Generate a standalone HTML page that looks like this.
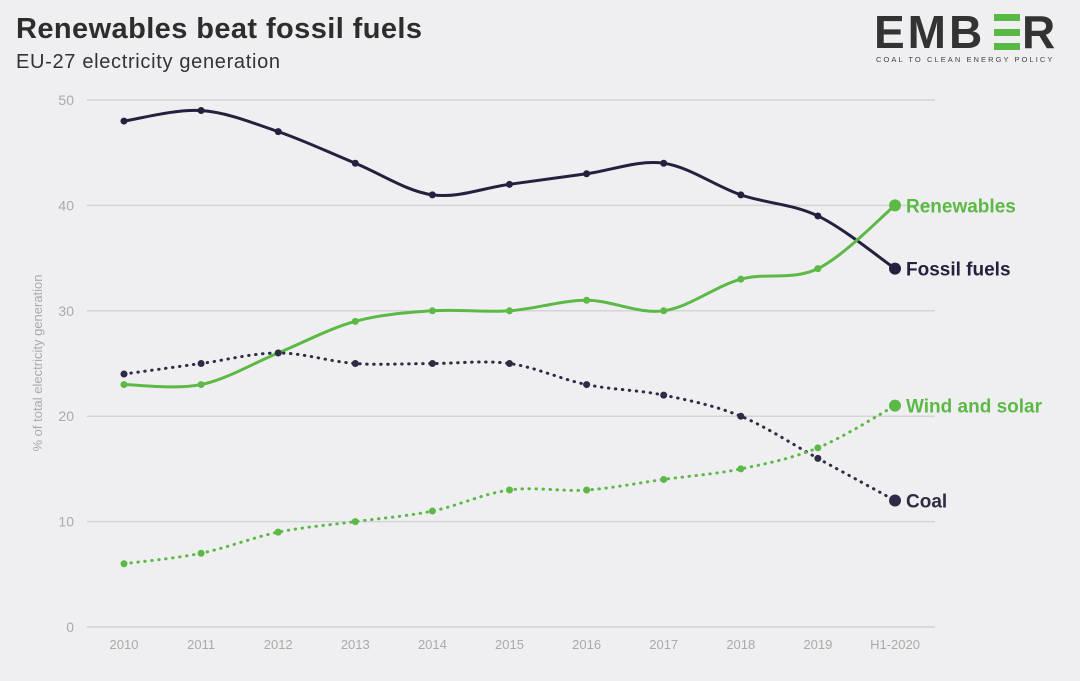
<!DOCTYPE html>
<html><head><meta charset="utf-8"><style>
body{margin:0;width:1080px;height:676px;background:#efeff1;font-family:"Liberation Sans",sans-serif;overflow:hidden}
</style></head><body>
<svg id="s" width="1080" height="676" xmlns="http://www.w3.org/2000/svg">
<text x="16" y="38" font-size="29" font-weight="bold" fill="#2d2d2d" textLength="406">Renewables beat fossil fuels</text>
<text x="16" y="68" font-size="20" fill="#333" textLength="264">EU-27 electricity generation</text>
<text x="874" y="48" font-size="46" font-weight="bold" fill="#333" letter-spacing="3">EMB</text>
<rect x="994" y="14" width="26" height="7" fill="#58b947"/>
<rect x="994" y="29" width="26" height="7" fill="#58b947"/>
<rect x="994" y="43" width="26" height="7" fill="#58b947"/>
<text x="1022" y="48" font-size="46" font-weight="bold" fill="#333">R</text>
<text x="876" y="62" font-size="7.5" fill="#444" letter-spacing="1.6" textLength="178">COAL TO CLEAN ENERGY POLICY</text>
<text transform="translate(42,363) rotate(-90)" text-anchor="middle" font-size="13" fill="#aaa">% of total electricity generation</text>
<g id="g"></g>
</svg>
<script>
var g=document.getElementById('g'),h='';
function X(i){return 124+i*77.1}function Y(v){return 627-v*10.54}
for(var v=0;v<=50;v+=10){h+='<line x1="87" x2="935" y1="'+Y(v)+'" y2="'+Y(v)+'" stroke="#d4d4d6" stroke-width="1.5"/>';
h+='<text x="74" y="'+(Y(v)+5)+'" text-anchor="end" font-size="14" fill="#aaa">'+v+'</text>';}
var L=['2010','2011','2012','2013','2014','2015','2016','2017','2018','2019','H1-2020'];
L.forEach(function(l,i){h+='<text x="'+X(i)+'" y="649" text-anchor="middle" font-size="13" fill="#aaa">'+l+'</text>'});
function path(d){var p=d.map(function(v,i){return[X(i),Y(v)]});var s='M'+p[0];
for(var i=0;i<p.length-1;i++){var a=p[i-1]||p[i],b=p[i],c=p[i+1],e=p[i+2]||c;
s+=' C'+(b[0]+(c[0]-a[0])/6)+','+(b[1]+(c[1]-a[1])/6)+' '+(c[0]-(e[0]-b[0])/6)+','+(c[1]-(e[1]-b[1])/6)+' '+c[0]+','+c[1];}return s}
function ser(d,col,dash,lab){h+='<path d="'+path(d)+'" fill="none" stroke="'+col+'" stroke-width="3"'+(dash?' stroke-dasharray="0.5,6.5" stroke-linecap="round"':'')+'/>';
d.forEach(function(v,i){h+='<circle cx="'+X(i)+'" cy="'+Y(v)+'" r="'+(i==10?6:3.5)+'" fill="'+col+'"/>'});
h+='<text x="906" y="'+(Y(d[10])+7)+'" font-size="19" font-weight="bold" fill="'+col+'">'+lab+'</text>';}
ser([48,49,47,44,41,42,43,44,41,39,34],'#23213d',0,'Fossil fuels');
ser([23,23,26,29,30,30,31,30,33,34,40],'#5cb946',0,'Renewables');
ser([24,25,26,25,25,25,23,22,20,16,12],'#2d2c45',1,'Coal');
ser([6,7,9,10,11,13,13,14,15,17,21],'#5cb946',1,'Wind and solar');
g.innerHTML=h;
</script>
</body></html>
